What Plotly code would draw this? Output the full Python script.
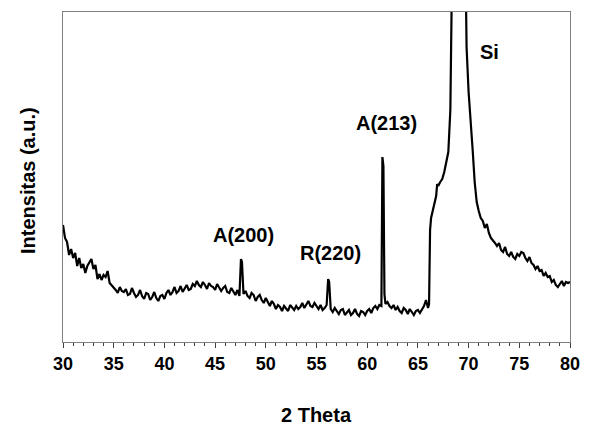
import plotly.graph_objects as go

two_theta = [
    30.0, 30.2, 30.4, 30.6, 30.8, 31.0, 31.2, 31.4, 31.6, 31.8,
    32.0, 32.2, 32.4, 32.6, 32.8, 33.0, 33.2, 33.4, 33.6, 33.8,
    34.0, 34.2, 34.4, 34.6, 34.8, 35.0, 35.2, 35.4, 35.6, 35.8,
    36.0, 36.2, 36.4, 36.6, 36.8, 37.0, 37.2, 37.4, 37.6, 37.8,
    38.0, 38.2, 38.4, 38.6, 38.8, 39.0, 39.2, 39.4, 39.6, 39.8,
    40.0, 40.2, 40.4, 40.6, 40.8, 41.0, 41.2, 41.4, 41.6, 41.8,
    42.0, 42.2, 42.4, 42.6, 42.8, 43.0, 43.2, 43.4, 43.6, 43.8,
    44.0, 44.2, 44.4, 44.6, 44.8, 45.0, 45.2, 45.4, 45.6, 45.8,
    46.0, 46.2, 46.4, 46.6, 46.8, 47.0, 47.2, 47.4, 47.55, 47.65, 47.8,
    48.0, 48.2, 48.4, 48.6, 48.8, 49.0, 49.2, 49.4, 49.6, 49.8,
    50.0, 50.2, 50.4, 50.6, 50.8, 51.0, 51.2, 51.4, 51.6, 51.8,
    52.0, 52.2, 52.4, 52.6, 52.8, 53.0, 53.2, 53.4, 53.6, 53.8,
    54.0, 54.2, 54.4, 54.6, 54.8, 55.0, 55.2, 55.4, 55.6, 55.8,
    56.0, 56.15, 56.25, 56.4, 56.6, 56.8,
    57.0, 57.2, 57.4, 57.6, 57.8, 58.0, 58.2, 58.4, 58.6, 58.8,
    59.0, 59.2, 59.4, 59.6, 59.8, 60.0, 60.2, 60.4, 60.6, 60.8,
    61.0, 61.2, 61.4, 61.5, 61.6, 61.7, 61.8,
    62.0, 62.2, 62.4, 62.6, 62.8, 63.0, 63.2, 63.4, 63.6, 63.8,
    64.0, 64.2, 64.4, 64.6, 64.8, 65.0, 65.2, 65.4, 65.6, 65.8,
    66.0, 66.1, 66.2, 66.3, 66.4, 66.6, 66.8, 66.9, 67.0, 67.2, 67.4, 67.6, 67.8,
    68.0, 68.2, 68.4, 68.6, 68.8, 69.0, 69.2, 69.4, 69.6, 69.8,
    70.0, 70.2, 70.4, 70.6, 70.8, 71.0, 71.2, 71.4, 71.6, 71.8,
    72.0, 72.2, 72.4, 72.6, 72.8, 73.0, 73.2, 73.4, 73.6, 73.8,
    74.0, 74.2, 74.4, 74.6, 74.8, 75.0, 75.2, 75.4, 75.6, 75.8,
    76.0, 76.2, 76.4, 76.6, 76.8, 77.0, 77.2, 77.4, 77.6, 77.8,
    78.0, 78.2, 78.4, 78.6, 78.8, 79.0, 79.2, 79.4, 79.6, 79.8,
    80.0,
]

intensity = [
    117, 104, 100, 87, 93, 84, 89, 76, 84, 74,
    78, 69, 76, 79, 83, 73, 77, 63, 68, 62,
    67, 65, 71, 59, 57, 54, 52, 49, 55, 51,
    50, 53, 47, 48, 54, 49, 45, 47, 52, 46,
    43, 49, 48, 42, 45, 50, 44, 41, 46, 47,
    43, 49, 52, 47, 50, 55, 49, 51, 56, 50,
    54, 57, 52, 53, 58, 56, 61, 57, 55, 60,
    57, 53, 59, 56, 55, 52, 58, 55, 51, 54,
    56, 50, 49, 54, 50, 47, 52, 46, 83, 80, 48,
    51, 46, 44, 49, 47, 41, 45, 47, 42, 39,
    44, 40, 36, 41, 38, 33, 37, 35, 31, 36,
    34, 31, 37, 35, 32, 36, 33, 35, 39, 34,
    38, 41, 36, 35, 39, 36, 33, 37, 32, 34,
    37, 63, 60, 33, 30, 34,
    31, 28, 32, 33, 27, 30, 32, 27, 29, 33,
    28, 26, 31, 30, 27, 31, 33, 29, 34, 36,
    33, 37, 36, 185, 176, 48, 38,
    40, 36, 34, 37, 32, 35, 31, 29, 34, 32,
    28, 33, 30, 27, 31, 32, 29, 33, 36, 42,
    34, 38, 112, 124, 129, 138, 146, 158, 156, 160, 163, 170, 180,
    190, 232, 330, 560, 800, 900, 860, 700, 460, 295,
    250, 224, 192, 160, 140, 131, 124, 121, 114, 118,
    109, 104, 102, 99, 96, 99, 92, 90, 95, 88,
    86, 90, 85, 83, 88, 86, 90, 89, 84, 81,
    85, 79, 77, 73, 76, 71, 72, 66, 69, 65,
    66, 60, 62, 57, 55, 58, 61, 56, 60, 59,
    60,
]

peak_labels = ["A(200)", "R(220)", "A(213)", "Si"]
label_x = [47.8, 56.35, 61.9, 72.1]
label_y = [107, 89, 219, 290]

x_ticks = [30, 35, 40, 45, 50, 55, 60, 65, 70, 75, 80]

FONT = "Arial, 'Liberation Sans', sans-serif"

fig = go.Figure()
fig.add_trace(go.Scatter(
    x=two_theta, y=intensity, mode="lines",
    line=dict(color="black", width=2.2),
    hoverinfo="skip", showlegend=False,
))

for t, lx, ly in zip(peak_labels, label_x, label_y):
    fig.add_annotation(x=lx, y=ly, text="<b>%s</b>" % t, showarrow=False,
                       xref="x", yref="y",
                       font=dict(family=FONT, size=20, color="black"))

fig.add_annotation(x=-0.069, y=0.488, xref="paper", yref="paper",
                   text="<b>Intensitas (a.u.)</b>", textangle=-90,
                   showarrow=False, xanchor="center", yanchor="middle",
                   font=dict(family=FONT, size=20, color="black"))
fig.add_annotation(x=0.5, y=-0.221, xref="paper", yref="paper",
                   text="<b>2 Theta</b>", showarrow=False,
                   xanchor="center", yanchor="middle",
                   font=dict(family=FONT, size=20, color="black"))

# page body has an 8px default margin, so the figure is 8px smaller
fig.update_layout(
    width=581, height=420,
    margin=dict(l=55, r=19, t=4, b=86),
    paper_bgcolor="white", plot_bgcolor="white",
    font=dict(family=FONT, color="black"),
)
fig.update_xaxes(
    range=[30, 80], tickvals=x_ticks,
    ticktext=["<b>%d</b>" % v for v in x_ticks],
    tickfont=dict(family=FONT, size=18, color="black"),
    ticks="outside", ticklen=5, tickwidth=1, tickcolor="#404040",
    minor=dict(dtick=1, ticks="outside", ticklen=3, tickwidth=1, tickcolor="#404040"),
    showline=True, linecolor="#808080", linewidth=1, mirror=True,
    showgrid=False, zeroline=False,
)
fig.update_yaxes(
    range=[0, 330], showticklabels=False, ticks="",
    showline=True, linecolor="#808080", linewidth=1, mirror=True,
    showgrid=False, zeroline=False,
)

fig.write_html("out.html")
